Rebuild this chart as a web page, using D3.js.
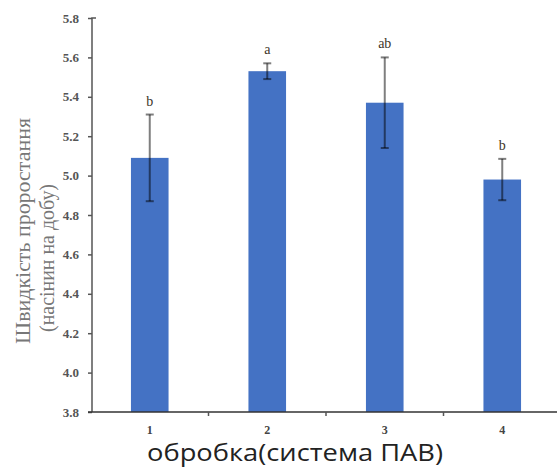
<!DOCTYPE html>
<html>
<head>
<meta charset="utf-8">
<script src="https://cdn.jsdelivr.net/npm/d3@7"></script>
<style>
  body { margin: 0; background: #fff; }
  svg { display: block; }
</style>
</head>
<body>
<svg id="chart" width="557" height="471"></svg>
<script>
const categories = ["1", "2", "3", "4"];
const values = [5.09, 5.53, 5.37, 4.98];
const errors = [0.22, 0.04, 0.23, 0.105];
const letters = ["b", "a", "ab", "b"];
const yTicks = [3.8, 4.0, 4.2, 4.4, 4.6, 4.8, 5.0, 5.2, 5.4, 5.6, 5.8];
const yTitle = ["Швидкість проростання", "(насінин на добу)"];
const xTitle = "обробка(система ПАВ)";

const svg = d3.select("#chart");
const x0 = 92, x1 = 561, yTop = 18, yBot = 412;

const x = d3.scaleBand().domain(categories).range([x0 - 1, x1]).paddingInner(0.68).paddingOuter(0.34);
const y = d3.scaleLinear().domain([3.8, 5.8]).range([yBot, yTop]);

// y title (drawn first, ticks overlap it as in the reference)
svg.append("text")
  .attr("transform", "translate(30,231) rotate(-90)")
  .attr("text-anchor", "middle")
  .attr("font-family", "Liberation Serif, serif")
  .attr("font-size", 21)
  .attr("fill", "#777")
  .attr("textLength", 226).attr("lengthAdjust", "spacingAndGlyphs")
  .text(yTitle[0]);
svg.append("text")
  .attr("transform", "translate(54,258) rotate(-90)")
  .attr("text-anchor", "middle")
  .attr("font-family", "Liberation Serif, serif")
  .attr("font-size", 21)
  .attr("fill", "#777")
  .attr("textLength", 148).attr("lengthAdjust", "spacingAndGlyphs")
  .text(yTitle[1]);

// bars
svg.append("g").selectAll("rect").data(categories).join("rect")
  .attr("x", d => x(d))
  .attr("width", x.bandwidth())
  .attr("y", (d, i) => y(values[i]))
  .attr("height", (d, i) => y(3.8) - y(values[i]))
  .attr("fill", "#4472C4");

// error bars
const eb = svg.append("g").attr("stroke", "#000").attr("stroke-opacity", 0.5).attr("stroke-width", 2);
categories.forEach((c, i) => {
  const cx = x(c) + x.bandwidth() / 2;
  const top = y(values[i] + errors[i]), bot = y(values[i] - errors[i]);
  eb.append("line").attr("x1", cx).attr("x2", cx).attr("y1", top).attr("y2", bot);
  eb.append("line").attr("x1", cx - 4).attr("x2", cx + 4).attr("y1", top).attr("y2", top);
  eb.append("line").attr("x1", cx - 4).attr("x2", cx + 4).attr("y1", bot).attr("y2", bot);
});

// letters
svg.append("g").selectAll("text").data(categories).join("text")
  .attr("x", d => x(d) + x.bandwidth() / 2)
  .attr("y", (d, i) => y(values[i] + errors[i]) - 9)
  .attr("text-anchor", "middle")
  .attr("font-family", "Liberation Serif, serif")
  .attr("font-size", 14)
  .attr("fill", "#3d3528")
  .text((d, i) => letters[i]);

// y axis
const yAxis = d3.axisLeft(y).tickValues(yTicks).tickFormat(d3.format(".1f")).tickSize(4).tickPadding(9);
const gy = svg.append("g").attr("transform", `translate(${x0},0)`).call(yAxis);
gy.select(".domain").attr("stroke", "#555").attr("stroke-width", 1.5).attr("d", `M4,${yTop}H0V${yBot}`);
gy.selectAll(".tick line").attr("stroke", "#555").attr("stroke-width", 1.5);
gy.selectAll(".tick text").attr("font-family", "Liberation Serif, serif").attr("font-size", 13)
  .attr("font-weight", "bold").attr("fill", "#555");

// x axis
const xAxis = d3.axisBottom(x).tickSize(0).tickPadding(13);
const gx = svg.append("g").attr("transform", `translate(0,${yBot})`).call(xAxis);
gx.select(".domain").attr("stroke", "#333").attr("stroke-width", 1.5).attr("d", `M${x0 - 4},0H557`);
gx.selectAll(".tick text").attr("font-family", "Liberation Serif, serif").attr("font-size", 12)
  .attr("font-weight", "bold").attr("fill", "#444");
const step = x.step();
gx.selectAll(".sep").data(categories.slice(1)).join("line")
  .attr("class", "sep")
  .attr("x1", d => x(d) - step * x.paddingInner() / 2)
  .attr("x2", d => x(d) - step * x.paddingInner() / 2)
  .attr("y1", 0).attr("y2", 4)
  .attr("stroke", "#555").attr("stroke-width", 1.5);

// x title
svg.append("text")
  .attr("x", 295).attr("y", 461)
  .attr("text-anchor", "middle")
  .attr("font-family", "Open Sans, sans-serif")
  .attr("font-size", 24)
  .attr("fill", "#222")
  .attr("textLength", 296).attr("lengthAdjust", "spacingAndGlyphs")
  .text(xTitle);
</script>
</body>
</html>
